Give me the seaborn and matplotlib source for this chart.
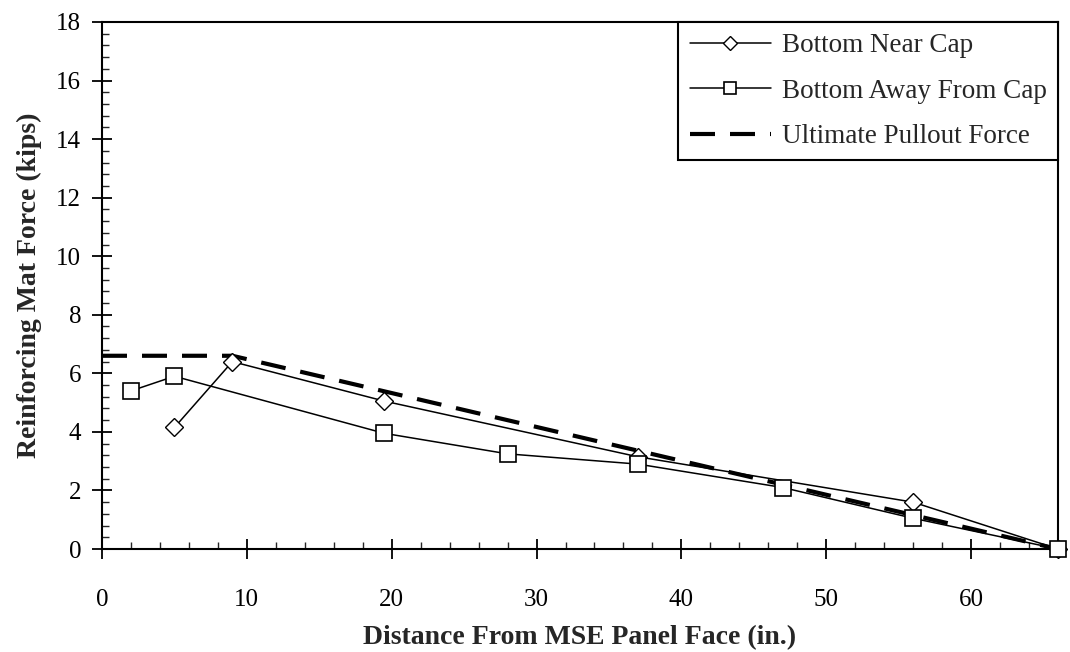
import matplotlib
matplotlib.use("Agg")
import matplotlib.pyplot as plt
from matplotlib.ticker import MultipleLocator
import seaborn as sns
import pandas as pd

# Measured reinforcing mat forces along the mat length
near_cap_x = [5, 9, 19.5, 37, 56, 66]
near_cap_y = [4.15, 6.4, 5.05, 3.15, 1.6, 0.0]

away_cap_x = [2, 5, 19.5, 28, 37, 47, 56, 66]
away_cap_y = [5.4, 5.9, 3.95, 3.25, 2.9, 2.1, 1.05, 0.0]

# Ultimate pullout force envelope
pullout_x = [0, 9, 66]
pullout_y = [6.6, 6.6, 0.0]

labels = ["Bottom Near Cap", "Bottom Away From Cap", "Ultimate Pullout Force"]

sns.set_style("white")
plt.rcParams["font.family"] = ["Liberation Serif", "DejaVu Serif"]

fig = plt.figure(figsize=(10.70, 6.52), dpi=100)
ax = fig.add_axes([102 / 1070, 1 - 549 / 652, (1058 - 102) / 1070, (549 - 22) / 652])

near = pd.DataFrame({"x": near_cap_x, "y": near_cap_y})
away = pd.DataFrame({"x": away_cap_x, "y": away_cap_y})
pull = pd.DataFrame({"x": pullout_x, "y": pullout_y})

sns.lineplot(data=near, x="x", y="y", ax=ax, color="black", linewidth=1.1,
             marker="D", markersize=9, markerfacecolor="white",
             markeredgecolor="black", markeredgewidth=1.0, sort=False,
             label=labels[0], zorder=3, clip_on=False)
sns.lineplot(data=away, x="x", y="y", ax=ax, color="black", linewidth=1.1,
             marker="s", markersize=11, markerfacecolor="white",
             markeredgecolor="black", markeredgewidth=1.2, sort=False,
             label=labels[1], zorder=4, clip_on=False)
sns.lineplot(data=pull, x="x", y="y", ax=ax, color="black", linewidth=3.0,
             legend=False, sort=False, zorder=2)
h_pull = ax.lines[-1]
h_pull.set_dashes([6.0, 3.6])
h_pull.set_label(labels[2])

ax.set_xlim(0, 66)
ax.set_ylim(0, 18)
ax.xaxis.set_major_locator(MultipleLocator(10))
ax.xaxis.set_minor_locator(MultipleLocator(2))
ax.yaxis.set_major_locator(MultipleLocator(2))
ax.yaxis.set_minor_locator(MultipleLocator(0.4))

ax.tick_params(axis="both", which="major", direction="inout", length=14,
               width=1.3, labelsize=18, colors="black")
ax.tick_params(axis="x", which="major", pad=22)
ax.tick_params(axis="y", which="major", pad=8)
ax.tick_params(axis="both", which="minor", direction="in", length=5,
               width=1.0)
ax.tick_params(left=True, bottom=True, which="both")

for s in ax.spines.values():
    s.set_visible(True)
    s.set_color("black")
    s.set_linewidth(1.5)

ax.set_xlabel("Distance From MSE Panel Face (in.)", fontsize=20,
              fontweight="bold", labelpad=10)
ax.set_ylabel("Reinforcing Mat Force (kips)", fontsize=20,
              fontweight="bold", labelpad=10)

h_near = [l for l in ax.lines if l.get_label() == labels[0]][0]
h_away = [l for l in ax.lines if l.get_label() == labels[1]][0]
leg = ax.legend([h_near, h_away, h_pull], labels, loc="upper right",
                fontsize=19.5, frameon=True, fancybox=False, framealpha=1,
                edgecolor="black", borderaxespad=0, handlelength=3.0,
                markerscale=0.75, borderpad=0.42, labelspacing=0.75,
                handletextpad=0.4)
leg.get_frame().set_linewidth(1.5)

fig.savefig("out.png", dpi=100)
